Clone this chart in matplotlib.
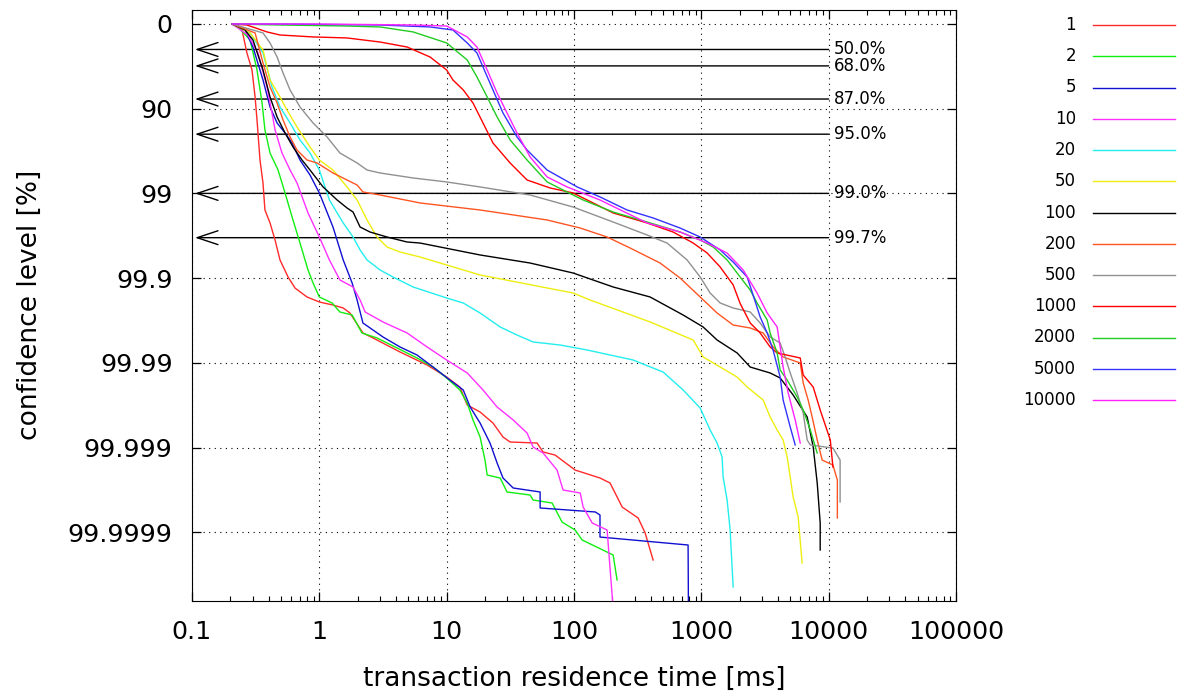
import numpy as np
import matplotlib.pyplot as plt
from matplotlib.lines import Line2D
from matplotlib.ticker import FixedLocator, NullLocator

# confidence levels are kept as "nines": n = -log10(1 - p)
levels = ['1', '2', '5', '10', '20', '50', '100', '200', '500', '1000', '2000', '5000', '10000']
colors = ['#ff2a2a', '#11ee11', '#1010d0', '#ff30ff', '#22eeee', '#eeee10', '#000000',
          '#ff5522', '#909090', '#ff0000', '#22cc22', '#3333ff', '#ff22ff']

t_1 = [0.206, 0.230, 0.247, 0.270, 0.296, 0.313, 0.324, 0.336, 0.342, 0.361, 0.374, 0.410, 0.449,
       0.491, 0.568, 0.644, 0.800, 1.0, 1.28, 1.54, 1.74, 2.20, 2.64, 4.30, 7.02, 10, 12.7, 14.5,
       18.3, 23.1, 27.7, 31.5, 51.3, 57.2, 71.1, 102, 160, 192, 239, 319, 362, 418]
n_1 = [0, 0.024, 0.071, 0.342, 0.543, 0.862, 1.133, 1.452, 1.606, 1.877, 2.196, 2.349, 2.550,
       2.786, 2.987, 3.117, 3.223, 3.282, 3.318, 3.353, 3.412, 3.648, 3.707, 3.872, 4.026, 4.168,
       4.286, 4.498, 4.581, 4.711, 4.876, 4.935, 4.947, 5.053, 5.089, 5.266, 5.360, 5.419, 5.703,
       5.832, 6.009, 6.328]

t_2 = [0.218, 0.286, 0.324, 0.355, 0.374, 0.410, 0.474, 0.538, 0.611, 0.705, 0.815, 0.893, 1.0,
       1.26, 1.45, 1.81, 2.16, 2.84, 4.08, 5.85, 7.82, 10, 12.7, 14.5, 16.1, 18.3, 20.0, 20.8,
       26.3, 29.8, 45.2, 47.7, 67.3, 80.6, 102, 116, 203, 218]
n_2 = [0, 0.189, 0.543, 0.933, 1.251, 1.523, 1.724, 1.995, 2.279, 2.586, 2.904, 3.058, 3.223,
       3.294, 3.400, 3.436, 3.648, 3.707, 3.825, 3.943, 4.050, 4.179, 4.321, 4.475, 4.675, 4.876,
       5.148, 5.325, 5.360, 5.525, 5.561, 5.620, 5.655, 5.880, 5.974, 6.092, 6.269, 6.564]

t_5 = [0.206, 0.261, 0.301, 0.361, 0.410, 0.466, 0.538, 0.611, 0.705, 0.845, 1.0, 1.28, 1.54,
       1.81, 1.98, 2.20, 2.64, 3.16, 4.30, 5.85, 7.82, 10.6, 13.5, 15.3, 18.3, 21.9, 24.9, 27.7,
       33.3, 54.2, 54.2, 147, 160, 160, 787, 792]
n_5 = [0, 0.071, 0.272, 0.661, 0.980, 1.169, 1.287, 1.405, 1.606, 1.783, 1.995, 2.397, 2.786,
       3.058, 3.259, 3.530, 3.613, 3.695, 3.813, 3.908, 4.050, 4.203, 4.321, 4.522, 4.711, 4.947,
       5.183, 5.360, 5.478, 5.525, 5.714, 5.761, 5.797, 6.057, 6.151, 6.9]

t_10 = [0.206, 0.275, 0.330, 0.388, 0.425, 0.449, 0.509, 0.589, 0.668, 0.815, 1.0, 1.20, 1.45,
        1.84, 2.09, 2.29, 3.16, 4.89, 7.02, 10, 14.5, 19.3, 24.9, 33.3, 42.8, 47.7, 57.2, 73.6,
        82.1, 112, 118, 139, 182, 203]
n_10 = [0, 0.130, 0.342, 0.744, 1.051, 1.251, 1.523, 1.724, 1.877, 2.231, 2.515, 2.786, 3.022,
        3.105, 3.259, 3.400, 3.518, 3.648, 3.813, 3.967, 4.120, 4.321, 4.522, 4.675, 4.829, 4.994,
        5.065, 5.266, 5.502, 5.537, 5.703, 5.891, 5.974, 6.9]

t_20 = [0.206, 0.286, 0.361, 0.425, 0.491, 0.589, 0.705, 0.845, 1.0, 1.20, 1.54, 1.84, 2.09, 2.37,
        3.00, 3.79, 5.45, 10, 13.5, 18.3, 26.3, 35.7, 47.7, 77.8, 127, 291, 501, 720, 979, 1172,
        1330, 1456, 1483, 1594, 1683, 1778]
n_20 = [0, 0.106, 0.342, 0.744, 0.980, 1.169, 1.369, 1.523, 1.724, 2.078, 2.349, 2.515, 2.668,
        2.786, 2.904, 2.987, 3.105, 3.235, 3.294, 3.412, 3.577, 3.672, 3.754, 3.790, 3.849, 3.967,
        4.109, 4.321, 4.534, 4.793, 4.947, 5.112, 5.348, 5.620, 5.974, 6.647]

t_50 = [0.206, 0.286, 0.361, 0.410, 0.491, 0.557, 0.668, 0.845, 1.0, 1.28, 1.65, 1.98, 2.37, 2.84,
        3.40, 4.30, 6.18, 18.3, 98.4, 134, 396, 863, 1033, 1406, 1911, 2290, 3060, 3470, 3940,
        4390, 4720, 4990, 5260, 5760, 6190]
n_50 = [0, 0.106, 0.307, 0.661, 0.862, 1.015, 1.216, 1.452, 1.606, 1.724, 1.924, 2.078, 2.314,
        2.515, 2.633, 2.692, 2.751, 2.963, 3.176, 3.259, 3.518, 3.731, 3.931, 4.050, 4.168, 4.286,
        4.439, 4.640, 4.793, 4.911, 5.112, 5.348, 5.584, 5.820, 6.364]

t_100 = [0.206, 0.261, 0.301, 0.361, 0.410, 0.466, 0.538, 0.621, 0.731, 0.845, 1.07, 1.38, 1.65,
         1.84, 2.09, 2.50, 3.40, 4.89, 6.18, 18.3, 45.2, 98.4, 203, 396, 720, 1033, 1330, 1911,
         2420, 3470, 4159, 5260, 6780, 7560, 8130, 8580, 8580]
n_100 = [0, 0.071, 0.189, 0.543, 0.862, 1.098, 1.287, 1.452, 1.606, 1.724, 1.924, 2.078, 2.172,
         2.220, 2.397, 2.456, 2.515, 2.574, 2.586, 2.727, 2.822, 2.940, 3.105, 3.223, 3.436, 3.577,
         3.731, 3.884, 4.050, 4.120, 4.179, 4.380, 4.640, 4.994, 5.419, 5.891, 6.210]

t_200 = [0.206, 0.313, 0.361, 0.410, 0.466, 0.519, 0.589, 0.668, 0.800, 0.960, 1.28, 1.65, 1.98,
         2.20, 3.00, 6.18, 18.3, 61.5, 112, 182, 276, 474, 681, 979, 1330, 1778, 2420, 3060, 3660,
         4390, 5980, 6310, 6900, 7420, 8130, 8890, 10800, 11700, 11700]
n_200 = [0, 0.106, 0.460, 0.744, 0.933, 1.133, 1.334, 1.488, 1.606, 1.641, 1.759, 1.842, 1.901,
         1.983, 2.019, 2.113, 2.196, 2.314, 2.409, 2.515, 2.645, 2.822, 2.999, 3.223, 3.412, 3.554,
         3.589, 3.648, 3.813, 3.931, 4.002, 4.238, 4.439, 4.640, 4.911, 5.148, 5.207, 5.384, 5.832]

t_500 = [0.206, 0.361, 0.410, 0.466, 0.519, 0.589, 0.705, 0.893, 1.15, 1.45, 1.98, 2.37, 3.00,
         5.45, 10, 18.3, 45.2, 98.4, 203, 375, 538, 773, 979, 1172, 1406, 1778, 2420, 2897, 3470,
         4159, 4550, 4990, 5660, 6310, 6780, 7170, 10800, 12300, 12300]
n_500 = [0, 0.106, 0.224, 0.390, 0.579, 0.779, 0.980, 1.169, 1.334, 1.523, 1.641, 1.724, 1.759,
         1.818, 1.865, 1.924, 2.019, 2.161, 2.338, 2.491, 2.586, 2.786, 2.987, 3.176, 3.294, 3.353,
         3.400, 3.530, 3.695, 3.766, 3.931, 4.120, 4.357, 4.593, 4.911, 4.970, 5.006, 5.148, 5.643]

t_1000 = [0.206, 0.270, 0.388, 0.491, 0.893, 1.65, 3.00, 4.89, 7.41, 10, 11.2, 13.5, 16.1, 19.3,
          23.1, 31.5, 42.8, 64.9, 98.4, 203, 375, 600, 863, 1111, 1406, 1778, 2018, 2420, 2897,
          3470, 3940, 5980, 6310, 7560, 8580, 10300, 10800]
n_1000 = [0, 0.012, 0.094, 0.130, 0.153, 0.165, 0.213, 0.272, 0.390, 0.543, 0.661, 0.779, 0.933,
          1.169, 1.405, 1.641, 1.842, 1.936, 1.995, 2.231, 2.349, 2.456, 2.586, 2.704, 2.869,
          3.080, 3.300, 3.530, 3.648, 3.813, 3.884, 3.943, 4.144, 4.286, 4.557, 4.911, 5.230]

t_2000 = [0.206, 0.491, 1.65, 3.00, 5.45, 10, 14.5, 17.3, 20.8, 24.9, 31.5, 42.8, 61.5, 82.1, 118,
          203, 375, 681, 979, 1239, 1594, 2018, 2420, 2740, 3290, 3470, 3940, 4159, 4720, 5660,
          6310, 7170, 8130]
n_2000 = [0, 0.012, 0.024, 0.035, 0.094, 0.224, 0.425, 0.626, 0.862, 1.098, 1.369, 1.606, 1.865,
          1.960, 2.078, 2.220, 2.338, 2.456, 2.550, 2.633, 2.786, 2.987, 3.141, 3.294, 3.495,
          3.648, 3.884, 4.085, 4.203, 4.404, 4.557, 4.793, 5.065]

t_5000 = [0.206, 0.491, 3.00, 7.41, 11.2, 14.5, 17.3, 19.3, 23.1, 27.7, 35.7, 42.8, 61.5, 106,
          160, 261, 418, 681, 979, 1406, 1778, 2290, 2550, 2897, 3290, 3660, 4159, 4390, 4990, 5460]
n_5000 = [0, 0, 0.012, 0.035, 0.071, 0.224, 0.342, 0.508, 0.779, 1.051, 1.334, 1.488, 1.724,
          1.924, 2.042, 2.196, 2.290, 2.409, 2.515, 2.668, 2.810, 2.987, 3.200, 3.459, 3.648,
          3.849, 4.168, 4.439, 4.758, 4.970]

t_10000 = [0.206, 0.893, 5.45, 10, 14.5, 17.3, 20.8, 24.9, 29.8, 35.7, 45.2, 61.5, 88.3, 160, 375,
           681, 1111, 1594, 2130, 2740, 3290, 3940, 4159, 4390, 4810, 5460, 5980]
n_10000 = [0, 0, 0.012, 0.024, 0.153, 0.272, 0.543, 0.815, 1.051, 1.287, 1.570, 1.806, 1.924,
           2.078, 2.349, 2.456, 2.586, 2.704, 2.904, 3.176, 3.412, 3.577, 3.813, 4.050, 4.357,
           4.675, 4.947]

series_t = [t_1, t_2, t_5, t_10, t_20, t_50, t_100, t_200, t_500, t_1000, t_2000, t_5000, t_10000]
series_n = [n_1, n_2, n_5, n_10, n_20, n_50, n_100, n_200, n_500, n_1000, n_2000, n_5000, n_10000]

ref_p = [50.0, 68.0, 87.0, 95.0, 99.0, 99.7]
ytick_labels = ['0', '90', '99', '99.9', '99.99', '99.999', '99.9999']
xtick_vals = [0.1, 1, 10, 100, 1000, 10000, 100000]


def nines(p):
    return -np.log10(1 - np.asarray(p, dtype=float) / 100.0)


fig = plt.figure(figsize=(11.82, 6.98), dpi=100)
ax = fig.add_axes([192 / 1182, 1 - 601 / 698, 764 / 1182, 591 / 698])

for t, n, col in zip(series_t, series_n, colors):
    ax.plot(t, n, color=col, lw=1.0, zorder=3)

# reference arrows
for p in ref_p:
    y = nines(p)
    ax.annotate('', xy=(0.1055, y), xytext=(10000, y),
                arrowprops=dict(arrowstyle='->,head_length=0.75,head_width=0.25',
                                color='black', lw=1.0, shrinkA=0, shrinkB=0,
                                mutation_scale=20),
                zorder=2)
    ax.text(11000, y, '%.1f%%' % p, ha='left', va='center', fontsize=12)

ax.set_xscale('log')
ax.set_xlim(0.1, 100000)
ax.set_ylim(6.812, -0.165)
ax.xaxis.set_major_locator(FixedLocator(xtick_vals))
ax.set_xticklabels(['%g' % v for v in xtick_vals])
ax.set_yticks(nines([float(s) for s in ytick_labels]))
ax.set_yticklabels(ytick_labels)
ax.yaxis.set_minor_locator(NullLocator())

ax.tick_params(which='both', direction='in', top=True, right=True, labelsize=18.3)
ax.tick_params(which='major', length=6.5, width=0.9)
ax.tick_params(which='minor', length=3.5, width=0.8)
ax.tick_params(axis='y', pad=14)
ax.tick_params(axis='x', pad=14)
ax.grid(True, which='major', linestyle=(0, (1, 4)), color='black', lw=0.8)

fig.text(574 / 1182, 1 - 679 / 698, 'transaction residence time [ms]',
         ha='center', va='center', fontsize=19)
fig.text(30 / 1182, 1 - 305 / 698, 'confidence level [%]', rotation=90,
         ha='center', va='center', fontsize=19)

# key outside the plot, gnuplot style
for i, (lab, col) in enumerate(zip(levels, colors)):
    yy = 1 - (25 + i * 31.25) / 698
    fig.text(1076 / 1182, yy, lab, ha='right', va='center', fontsize=12)
    fig.add_artist(Line2D([1093 / 1182, 1175 / 1182], [yy, yy], color=col, lw=1.0))

plt.savefig('out.png', dpi=100)
plt.close()
